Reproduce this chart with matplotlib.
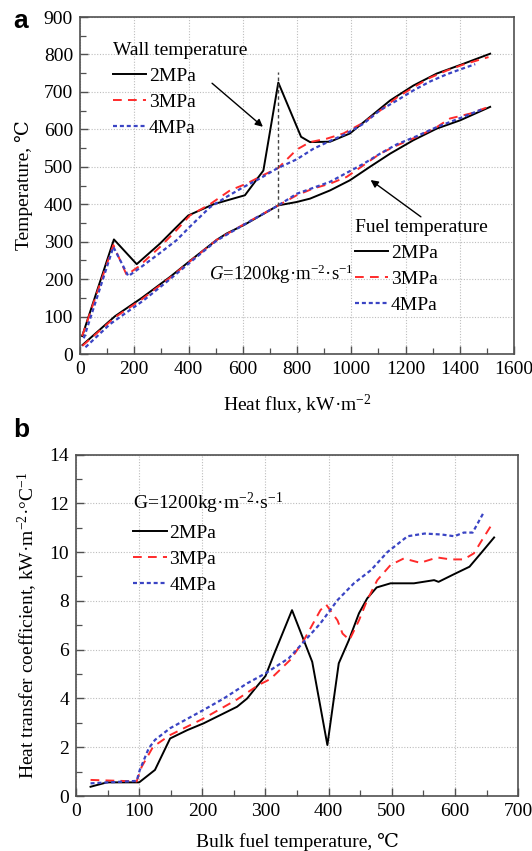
import numpy as np
import matplotlib
matplotlib.use("Agg")
import matplotlib.pyplot as plt
from matplotlib.ticker import MultipleLocator

plt.rcParams['font.family'] = ['Liberation Serif', 'DejaVu Serif', 'Noto Sans CJK SC']
plt.rcParams['mathtext.fontset'] = 'custom'
plt.rcParams['mathtext.rm'] = 'Liberation Serif'
plt.rcParams['mathtext.it'] = 'Liberation Serif:italic'
plt.rcParams['mathtext.bf'] = 'Liberation Serif:bold'

# ---------------- Panel a data ----------------
wall_2_x = [8, 125, 209, 295, 350, 399, 492, 608, 676, 731, 815, 848, 922, 995, 1069, 1143, 1229, 1315, 1413, 1512]
wall_2_y = [48, 306, 240, 295, 335, 370, 400, 424, 490, 725, 580, 566, 567, 589, 633, 677, 717, 749, 775, 802]
wall_3_x = [8, 123, 172, 215, 295, 356, 405, 479, 553, 614, 676, 731, 799, 848, 909, 971, 1045, 1106, 1168, 1229, 1291, 1352, 1413, 1506]
wall_3_y = [48, 291, 211, 233, 286, 331, 370, 400, 437, 455, 478, 497, 546, 566, 575, 589, 618, 650, 685, 712, 738, 757, 773, 793]
wall_4_x = [14, 123, 178, 221, 295, 356, 405, 479, 541, 603, 664, 725, 799, 860, 922, 983, 1045, 1106, 1168, 1229, 1291, 1352, 1413, 1457]
wall_4_y = [42, 286, 208, 230, 270, 304, 340, 392, 420, 446, 469, 495, 520, 548, 569, 589, 615, 651, 677, 704, 728, 747, 763, 774]

fuel_2_x = [9, 129, 228, 332, 418, 504, 541, 608, 731, 799, 848, 922, 995, 1069, 1143, 1229, 1315, 1401, 1512]
fuel_2_y = [24, 101, 150, 206, 256, 305, 322, 346, 397, 406, 415, 437, 464, 500, 535, 571, 602, 624, 660]
fuel_3_x = [9, 129, 228, 332, 418, 504, 608, 731, 799, 860, 922, 983, 1045, 1106, 1168, 1242, 1315, 1364, 1438, 1506]
fuel_3_y = [22, 98, 146, 204, 255, 305, 348, 397, 424, 442, 455, 473, 504, 535, 557, 580, 606, 629, 642, 660]
fuel_4_x = [20, 111, 234, 332, 418, 504, 608, 731, 799, 922, 1045, 1106, 1168, 1242, 1315, 1401, 1487]
fuel_4_y = [18, 80, 143, 200, 252, 303, 347, 397, 428, 460, 508, 535, 560, 582, 606, 630, 655]

# ---------------- Panel b data ----------------
htc_2_x = [23, 49, 100, 125, 149, 176, 202, 234, 255, 271, 284, 300, 313, 342, 374, 398, 416, 432, 448, 461, 476, 498, 535, 567, 574, 599, 623, 641, 662]
htc_2_y = [0.38, 0.56, 0.56, 1.07, 2.36, 2.7, 2.98, 3.39, 3.66, 4.0, 4.42, 4.92, 5.78, 7.62, 5.5, 2.09, 5.44, 6.39, 7.49, 8.1, 8.55, 8.72, 8.72, 8.85, 8.78, 9.1, 9.4, 9.95, 10.6]
htc_3_x = [23, 96, 104, 122, 149, 202, 255, 289, 308, 340, 361, 387, 396, 414, 422, 433, 448, 461, 477, 498, 519, 545, 572, 593, 614, 630, 643, 660]
htc_3_y = [0.66, 0.6, 1.2, 2.02, 2.5, 3.18, 3.96, 4.55, 4.8, 5.6, 6.4, 7.62, 7.85, 7.2, 6.66, 6.4, 7.2, 8.03, 8.85, 9.47, 9.74, 9.56, 9.78, 9.7, 9.7, 9.95, 10.5, 11.2]
htc_4_x = [23, 96, 101, 115, 125, 149, 202, 234, 271, 300, 337, 361, 387, 414, 440, 467, 493, 525, 552, 579, 599, 614, 628, 646]
htc_4_y = [0.52, 0.62, 1.07, 1.95, 2.3, 2.78, 3.53, 4.0, 4.62, 5.03, 5.65, 6.33, 7.08, 8.03, 8.72, 9.26, 10.0, 10.65, 10.76, 10.72, 10.65, 10.8, 10.8, 11.65]

labels = ['2MPa', '3MPa', '4MPa']
wall_title = 'Wall temperature'
fuel_title = 'Fuel temperature'

# styles
C_BLACK = 'black'
C_RED = '#ff2a2a'
C_BLUE = '#3a44c4'
LW = 1.4
styles = [dict(color=C_BLACK, lw=LW, ls='-'),
          dict(color=C_RED, lw=LW, dashes=(4.5, 3.2)),
          dict(color=C_BLUE, lw=LW + 0.2, dashes=(1.8, 1.3))]

FS = 14
fig = plt.figure(figsize=(5.32, 8.51), dpi=100)
axa = fig.add_axes([0.1504, 0.584, 0.8158, 0.396])
axb = fig.add_axes([0.1429, 0.0646, 0.831, 0.4013])


def style_axes(ax):
    for sp in ax.spines.values():
        sp.set_color('#505050')
        sp.set_linewidth(1.2)
    ax.tick_params(which='both', direction='in', labelsize=FS, pad=5, color='#505050')
    ax.tick_params(which='major', length=6, width=1.0)
    ax.tick_params(which='minor', length=4, width=0.9)
    ax.grid(True, which='major', ls=(0, (1, 1.5)), color='#bdbdbd', lw=0.8)
    ax.set_axisbelow(True)


# ---------------- Panel a ----------------
wl = []
for xs, ys, st, lab in zip([wall_2_x, wall_3_x, wall_4_x], [wall_2_y, wall_3_y, wall_4_y], styles, labels):
    l, = axa.plot(xs, ys, label=lab, **st)
    wl.append(l)
fl = []
for xs, ys, st, lab in zip([fuel_2_x, fuel_3_x, fuel_4_x], [fuel_2_y, fuel_3_y, fuel_4_y], styles, labels):
    l, = axa.plot(xs, ys, label=lab, **st)
    fl.append(l)

axa.set_xlim(0, 1600)
axa.set_ylim(0, 900)
axa.xaxis.set_major_locator(MultipleLocator(200))
axa.xaxis.set_minor_locator(MultipleLocator(100))
axa.yaxis.set_major_locator(MultipleLocator(100))
axa.yaxis.set_minor_locator(MultipleLocator(50))
style_axes(axa)
axa.set_xlabel('Heat flux, kW·m$^{-2}$', fontsize=FS)
axa.set_ylabel('Temperature, ℃', fontsize=FS)
axa.xaxis.set_label_coords(0.5, -0.116)
axa.yaxis.set_label_coords(-0.108, 0.5)

# peak marker line (at the wall-temperature spike of 2MPa) and arrows
wx = np.array(wall_2_x)
wy = np.array(wall_2_y)
spike_region = wx < 1000
peak_x = wx[spike_region][np.argmax(wy[spike_region])]
axa.plot([peak_x, peak_x], [362, 753], color='#444444', lw=1.0, dashes=(2.5, 2))
axa.annotate('', xy=(682, 602), xytext=(479, 728),
             arrowprops=dict(arrowstyle='-|>', color='black', lw=1.0, mutation_scale=11))
axa.annotate('', xy=(1063, 469), xytext=(1265, 362),
             arrowprops=dict(arrowstyle='-|>', color='black', lw=1.0, mutation_scale=11))
axa.text(474, 214, '$G$=1200kg·m$^{-2}$·s$^{-1}$', fontsize=FS - 0.5, va='center', ha='left')

leg_kw = dict(frameon=False, fontsize=FS, title_fontsize=FS, alignment='left',
              handlelength=1.7, handletextpad=0.15, labelspacing=0.43,
              borderpad=0, borderaxespad=0, loc='upper left')
leg1 = axa.legend(handles=wl, title=wall_title, bbox_to_anchor=(0.076, 0.926), **leg_kw)
axa.add_artist(leg1)
leg2 = axa.legend(handles=fl, title=fuel_title, bbox_to_anchor=(0.633, 0.40), **leg_kw)

# ---------------- Panel b ----------------
hl = []
for xs, ys, st, lab in zip([htc_2_x, htc_3_x, htc_4_x], [htc_2_y, htc_3_y, htc_4_y], styles, labels):
    l, = axb.plot(xs, ys, label=lab, **st)
    hl.append(l)
axb.set_xlim(0, 700)
axb.set_ylim(0, 14)
axb.xaxis.set_major_locator(MultipleLocator(100))
axb.xaxis.set_minor_locator(MultipleLocator(50))
axb.yaxis.set_major_locator(MultipleLocator(2))
axb.yaxis.set_minor_locator(MultipleLocator(1))
style_axes(axb)
axb.set_xlabel('Bulk fuel temperature, ℃', fontsize=FS)
axb.set_ylabel('Heat transfer coefficient, kW·m$^{-2}$·°C$^{-1}$', fontsize=FS)
axb.xaxis.set_label_coords(0.5, -0.108)
axb.yaxis.set_label_coords(-0.082, 0.5)
axb.legend(handles=hl, title='G=1200kg·m$^{-2}$·s$^{-1}$', bbox_to_anchor=(0.13, 0.894), **leg_kw)

fig.text(0.024, 0.967, 'a', fontsize=19, fontweight='bold', family='Liberation Sans')
fig.text(0.025, 0.4865, 'b', fontsize=19, fontweight='bold', family='Liberation Sans')

fig.savefig('out.png', dpi=100)
